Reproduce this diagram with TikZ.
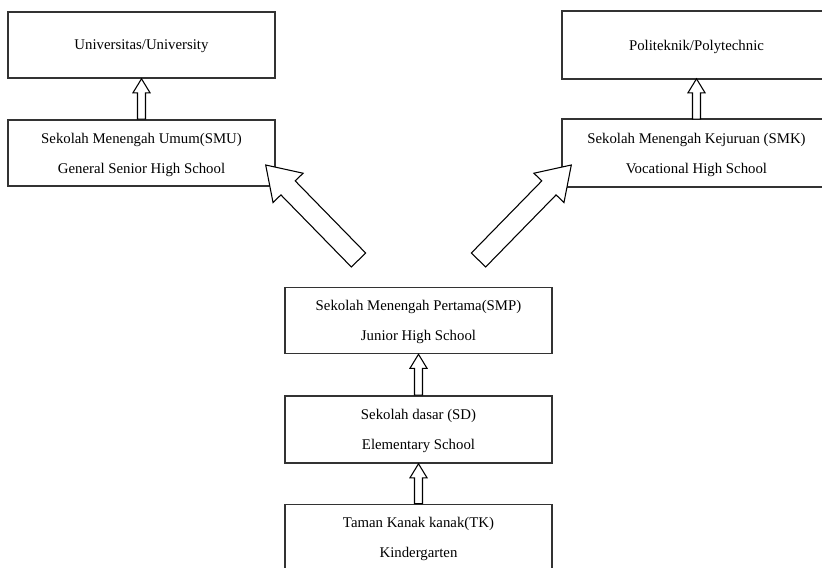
\documentclass[tikz,border=0pt]{standalone}
\usepackage{fontspec}
\setmainfont{Liberation Serif}
\usetikzlibrary{calc}
\definecolor{cGaris}{HTML}{333333}
\tikzset{
    x=0.75pt, y=-0.75pt, font=\fontsize{11.1}{22.3}\selectfont,
    garis/.style={draw=cGaris, line width=1.2pt},
    jenjang/.style={garis, minimum width=200.25pt, minimum height=49.5pt,
                    inner sep=0pt, align=center, text depth=0pt},
    terpotong/.style={jenjang, draw=none},
    panahgaris/.style={draw=black, line width=0.8pt, fill=white,
                       line join=miter},
}
% hollow arrow: tail, tip, half shaft, half head, head length
\newcommand{\panah}[5]{%
    \coordinate (pkb) at ($(#2)!#5!(#1)$);
    \draw[panahgaris] ($(#1)!#3!90:(#2)$) -- ($(pkb)!#3!-90:(#1)$)
        -- ($(pkb)!#4!-90:(#1)$) -- (#2) -- ($(pkb)!#4!90:(#1)$)
        -- ($(pkb)!#3!90:(#1)$) -- ($(#1)!#3!-90:(#2)$) -- cycle;
}

\begin{document}
\begin{tikzpicture}
    \useasboundingbox (0,0) rectangle (822,568);
    \clip (0,0) rectangle (822,568);

    \node[jenjang] (uni)  at (141.5,45)  {Universitas/University};
    \node[jenjang] (smu)  at (141.5,153)
        {Sekolah Menengah Umum(SMU)\\General Senior High School};
    \node[terpotong] (poli) at (696.5,45)  {Politeknik/Polytechnic};
    \node[terpotong] (smk)  at (696.5,153)
        {Sekolah Menengah Kejuruan (SMK)\\Vocational High School};
    \node[jenjang] (smp)  at (418.5,320.5)
        {Sekolah Menengah Pertama(SMP)\\Junior High School};
    \node[jenjang, minimum height=50.25pt] (sd) at (418.5,429.5)
        {Sekolah dasar (SD)\\Elementary School};
    \node[jenjang] (tk)   at (418.5,537.5)
        {Taman Kanak kanak(TK)\\Kindergarten};

    % boxes running off the right edge
    \foreach \n in {poli,smk}
        \draw[garis] ($(\n.north east)+(20,0)$) -| (\n.south west)
            -- ++(287,0);

    \coordinate (kiriekor)  at (358.5,260);
    \coordinate (kiriujung) at (265.7,165);
    \coordinate (kananekor)  at (478.5,260);
    \coordinate (kananujung) at (571.3,165);

    \panah{smu.north}{uni.south}{3pt}{6.4pt}{10.5pt}
    \panah{smk.north}{poli.south}{3pt}{6.4pt}{10.5pt}
    \panah{sd.north}{smp.south}{3pt}{6.4pt}{10.5pt}
    \panah{tk.north}{sd.south}{3pt}{6.4pt}{10.5pt}
    \panah{kiriekor}{kiriujung}{7.5pt}{15.75pt}{24pt}
    \panah{kananekor}{kananujung}{7.5pt}{15.75pt}{24pt}
\end{tikzpicture}
\end{document}
